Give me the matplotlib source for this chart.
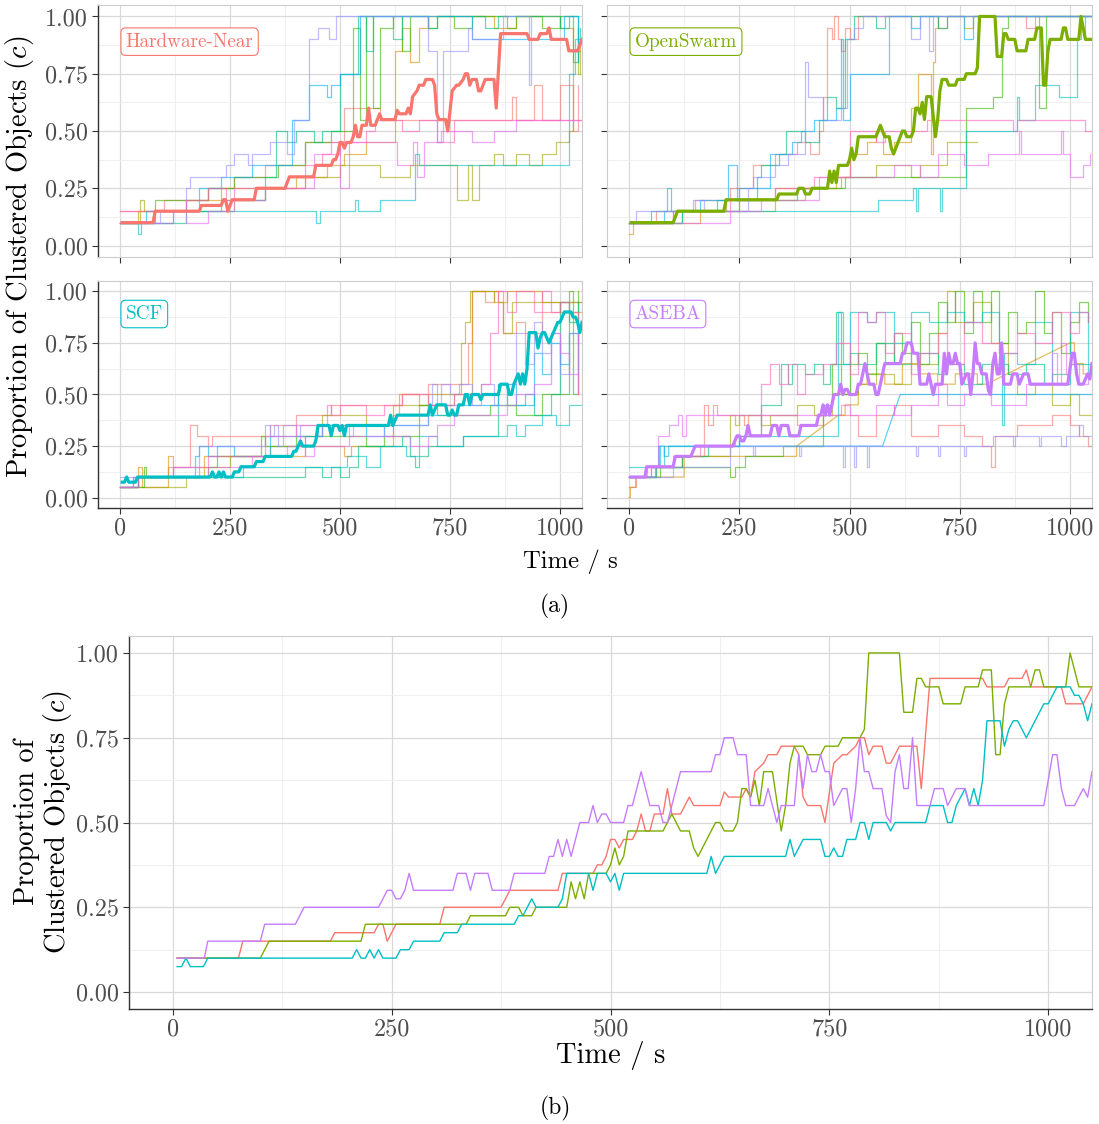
import matplotlib
matplotlib.use("Agg")
import matplotlib.pyplot as plt

plt.rcParams["font.family"] = "cmr10"
plt.rcParams["mathtext.fontset"] = "cm"
plt.rcParams["axes.unicode_minus"] = False

methods = ["Hardware-Near", "OpenSwarm", "SCF", "ASEBA"]
method_colors = ["#F8766D", "#7CAE00", "#00BFC4", "#C77CFF"]
run_colors = ["#F8766D", "#D89000", "#A3A500", "#39B600", "#00BF7D",
              "#00BFC4", "#00B0F6", "#9590FF", "#E76BF3", "#FF62BC"]

x_ticks = [0, 250, 500, 750, 1000]
y_ticks = [0.0, 0.25, 0.5, 0.75, 1.0]

# mean proportion over all runs, (time, value)
hn_mean = [(5, .10), (75, .10), (80, .15), (180, .15), (185, .175), (230, .175), (235, .20), (240, .20),
           (245, .15), (255, .20), (305, .20), (310, .25), (375, .25), (385, .30), (440, .30), (445, .35),
           (480, .35), (485, .375), (490, .375), (495, .40), (500, .45), (505, .45), (510, .425), (515, .45),
           (525, .45), (530, .475), (535, .525), (540, .475), (545, .475), (550, .525), (560, .525),
           (565, .60), (570, .525), (580, .525), (590, .575), (595, .55), (625, .55), (630, .59), (635, .575),
           (650, .575), (655, .60), (660, .575), (665, .65), (675, .675), (680, .70), (690, .70), (695, .725),
           (710, .725), (715, .70), (720, .575), (725, .55), (740, .55), (745, .50), (755, .675), (765, .70),
           (770, .70), (780, .725), (785, .75), (790, .75), (795, .70), (800, .725), (810, .725), (815, .675),
           (820, .675), (830, .725), (850, .725), (855, .60), (865, .925), (925, .925), (930, .90), (950, .90),
           (955, .925), (970, .925), (975, .95), (980, .90), (1015, .90), (1020, .85), (1040, .85), (1050, .90)]

os_mean = [(5, .10), (100, .10), (110, .15), (215, .15), (220, .20), (335, .20), (340, .225), (380, .225),
           (385, .25), (395, .25), (400, .225), (410, .225), (415, .25), (450, .25), (455, .325), (460, .275),
           (465, .325), (470, .275), (475, .35), (495, .35), (500, .375), (505, .425), (510, .375), (515, .40),
           (520, .475), (560, .475), (570, .525), (580, .475), (590, .475), (595, .425), (600, .40), (620, .50),
           (625, .50), (630, .475), (640, .475), (645, .50), (650, .60), (655, .60), (660, .575), (665, .625),
           (670, .55), (675, .65), (685, .65), (695, .475), (700, .55), (705, .675), (710, .725), (720, .725),
           (725, .70), (740, .70), (745, .725), (760, .725), (765, .75), (785, .75), (790, .775), (795, 1.0),
           (830, 1.0), (835, .825), (845, .825), (850, .925), (855, .925), (860, .90), (875, .90), (880, .85),
           (900, .85), (905, .90), (920, .90), (925, .95), (935, .95), (940, .70), (945, .70), (950, .85),
           (955, .90), (980, .90), (985, .95), (990, .95), (995, .90), (1020, .90), (1025, 1.0), (1035, .90),
           (1050, .90)]

scf_mean = [(5, .075), (10, .075), (15, .10), (20, .075), (35, .075), (40, .10), (205, .10), (210, .125),
            (215, .10), (220, .10), (225, .125), (230, .10), (235, .125), (240, .10), (255, .10), (260, .125),
            (270, .125), (275, .15), (305, .15), (310, .175), (325, .175), (330, .20), (390, .20), (395, .225),
            (400, .225), (410, .275), (415, .25), (440, .25), (445, .275), (450, .35), (475, .35), (480, .30),
            (485, .35), (495, .35), (500, .325), (505, .35), (510, .30), (515, .35), (610, .35), (615, .40),
            (620, .35), (630, .40), (700, .40), (705, .45), (710, .40), (720, .45), (740, .45), (745, .40),
            (750, .40), (755, .425), (760, .40), (765, .40), (770, .45), (780, .45), (785, .50), (790, .50),
            (795, .45), (800, .50), (815, .50), (820, .475), (825, .50), (860, .50), (865, .55), (880, .55),
            (885, .50), (890, .50), (895, .55), (905, .60), (910, .55), (915, .60), (920, .55), (925, .625),
            (930, .80), (945, .80), (950, .725), (955, .775), (960, .80), (965, .80), (975, .75), (985, .80),
            (990, .825), (995, .85), (1000, .85), (1005, .875), (1010, .90), (1025, .90), (1030, .875),
            (1035, .875), (1040, .85), (1045, .80), (1050, .85)]

aseba_mean = [(5, .10), (36, .10), (40, .15), (100, .15), (105, .20), (140, .20), (150, .25), (235, .25),
              (245, .30), (250, .30), (255, .275), (260, .275), (265, .30), (270, .35), (275, .30), (320, .30),
              (325, .35), (335, .35), (340, .30), (345, .35), (360, .35), (365, .30), (385, .30), (390, .35),
              (425, .35), (430, .40), (435, .40), (440, .45), (445, .40), (450, .45), (455, .40), (460, .45),
              (465, .50), (475, .50), (480, .55), (485, .50), (490, .525), (495, .525), (500, .50), (515, .50),
              (520, .55), (525, .55), (535, .65), (545, .55), (555, .55), (560, .50), (565, .50), (570, .55),
              (580, .65), (615, .65), (620, .70), (625, .70), (630, .75), (640, .75), (645, .70), (655, .70),
              (660, .55), (675, .55), (680, .60), (685, .55), (690, .50), (695, .55), (710, .55), (715, .70),
              (720, .60), (725, .70), (730, .65), (735, .65), (740, .70), (745, .65), (750, .65), (755, .55),
              (760, .575), (765, .60), (770, .60), (775, .50), (780, .60), (785, .75), (790, .65), (795, .65),
              (800, .60), (810, .60), (815, .52), (820, .50), (825, .65), (830, .70), (835, .60), (840, .60),
              (845, .75), (850, .55), (865, .55), (870, .60), (880, .60), (885, .55), (895, .60), (905, .60),
              (910, .55), (995, .55), (1005, .70), (1010, .70), (1015, .60), (1020, .55), (1030, .55),
              (1040, .60), (1045, .575), (1050, .65)]

# single runs, step changes (time, value); a third entry marks a straight ramp
hn_runs = [
    [(0, .15), (60, .15), (100, .20), (200, .25), (260, .30), (330, .35), (420, .45), (510, .60), (590, .55),
     (890, .65), (900, .55), (940, .70), (960, .55), (1000, .70), (1030, .50), (1040, .70)],
    [(0, .10), (40, .15), (150, .20), (230, .25), (400, .30), (470, .35), (510, .40), (560, .45), (625, .85),
     (640, .95), (660, .80), (680, .95), (700, 1.0), (800, 1.0), (850, .95), (900, 1.0), (1000, .95),
     (1030, .85), (1045, .90)],
    [(0, .10), (45, .20), (55, .15), (260, .20), (330, .25), (420, .30), (500, .35), (590, .30), (660, .35),
     (765, .20), (790, .35), (800, .20), (815, .35), (850, .40), (870, .35), (900, .40), (930, .35),
     (960, .40), (990, .45), (1020, .50), (1030, .85), (1040, .75), (1045, .85)],
    [(0, .10), (80, .20), (200, .25), (260, .30), (360, .35), (420, .45), (480, .50), (530, .95), (545, .55),
     (560, 1.0), (575, .60), (590, .95), (620, 1.0), (640, .85), (660, 1.0), (700, .95), (720, 1.0),
     (760, .95), (800, 1.0), (880, .95), (900, 1.0), (960, .95), (1000, 1.0), (1030, .80), (1040, .95)],
    [(0, .10), (150, .15), (230, .20), (330, .30), (355, .50), (380, .45), (400, .50), (440, .45), (460, .50),
     (500, .75), (540, 1.0), (560, .85), (575, 1.0), (620, .90), (640, 1.0), (700, .95), (720, 1.0),
     (830, .95), (860, 1.0), (1000, .95), (1020, 1.0), (1040, .85)],
    [(0, .10), (40, .05), (48, .10), (120, .15), (440, .15), (445, .10), (455, .15), (535, .20), (540, .15),
     (590, .20), (670, .40), (680, .35), (990, .35), (1020, .75), (1035, .90), (1045, .95)],
    [(0, .10), (60, .15), (180, .25), (230, .30), (300, .35), (390, .55), (430, .70), (470, .65), (480, .70),
     (500, .75), (545, 1.0), (730, 1.0), (800, .90), (1000, .90), (1010, 1.0), (1040, .80)],
    [(0, .10), (90, .15), (150, .25), (160, .30), (240, .35), (260, .40), (290, .35), (300, .40), (340, .45),
     (380, .40), (395, .55), (430, .90), (450, .95), (475, .90), (490, 1.0), (700, .85), (720, .45),
     (735, .85), (790, .95), (800, .90), (870, 1.0), (930, .70), (935, 1.0)],
    [(0, .10), (120, .15), (150, .10), (200, .15), (260, .20), (330, .25), (440, .40), (480, .45), (500, .25),
     (520, .45), (630, .35), (665, .45), (675, .30), (690, .45), (730, .50), (800, .45), (850, .50),
     (900, .55), (1050, .55)],
    [(0, .15), (150, .20), (200, .25), (240, .20), (260, .25), (420, .35), (460, .40), (500, .45), (560, .50),
     (580, .55), (640, .50), (680, .55), (720, .45), (760, .55), (1050, .55)],
]

os_runs = [
    [(0, .10), (60, .15), (150, .20), (230, .25), (280, .35), (330, .40), (380, .45), (410, .40), (430, .50),
     (440, .65), (450, .95), (460, .90), (465, 1.0), (475, .90), (480, .85), (490, .95), (500, .90),
     (520, 1.0), (700, .95), (720, 1.0), (900, .95), (920, 1.0), (1050, 1.0)],
    [(0, .05), (10, .10), (160, .15), (220, .20), (330, .25), (470, .30), (500, .40), (540, .45), (560, .50),
     (575, .40), (600, .45), (640, .60), (655, .75), (685, .40), (690, .80), (695, .95), (700, 1.0),
     (760, .95), (780, 1.0), (1050, 1.0)],
    [(0, .10), (100, .15), (330, .20), (400, .25), (480, .30), (560, .35), (640, .30), (660, .35), (720, .45),
     (790, .45)],
    [(0, .10), (120, .15), (250, .20), (380, .25), (490, .30), (765, .60), (825, .65), (845, .95), (860, 1.0),
     (930, .60), (945, 1.0), (1050, 1.0)],
    [(0, .10), (50, .15), (200, .20), (290, .30), (300, .35), (340, .40), (355, .50), (400, .45), (430, .55),
     (450, .65), (470, .60), (490, .90), (510, 1.0), (560, .95), (580, 1.0), (700, .95), (720, 1.0),
     (1050, 1.0)],
    [(0, .10), (120, .15), (565, .20), (645, .25), (650, .15), (655, .25), (705, .15), (710, .25), (765, .50),
     (880, .65), (885, .55), (920, .70), (975, .65), (1015, .90), (1025, 1.0), (1035, .90), (1050, .90)],
    [(0, .10), (80, .15), (85, .25), (95, .15), (160, .20), (225, .35), (245, .20), (250, .25), (320, .40),
     (370, .45), (390, .50), (420, .55), (470, .60), (480, .90), (485, .55), (500, .75), (590, 1.0),
     (640, .95), (660, 1.0), (760, .90), (780, 1.0), (1050, 1.0)],
    [(0, .10), (15, .15), (145, .20), (170, .15), (270, .25), (280, .30), (330, .35), (360, .40), (400, .80),
     (405, .65), (440, .55), (480, .60), (495, .90), (510, .95), (530, 1.0), (640, .90), (660, 1.0),
     (680, .85), (690, 1.0), (1050, 1.0)],
    [(0, .10), (200, .10), (230, .15), (300, .20), (430, .30), (600, .35), (660, .30), (700, .40), (760, .35),
     (815, .40), (880, .40), (885, .50), (890, .40), (980, .50), (985, .40), (1000, .30), (1030, .35),
     (1045, .40)],
    [(0, .10), (100, .15), (230, .20), (330, .25), (420, .30), (500, .50), (560, .45), (580, .50), (675, .55),
     (870, .50), (880, .55), (1035, .50), (1050, .50)],
]

scf_runs = [
    [(0, .05), (40, .10), (110, .15), (160, .35), (175, .30), (200, .25), (210, .30), (340, .35), (400, .40),
     (480, .45), (640, .50), (700, .55), (790, .75), (800, 1.0), (830, .95), (850, 1.0), (870, .80),
     (900, .85), (920, .80), (960, .90), (1000, .95), (1050, .95)],
    [(0, .05), (40, .15), (50, .05), (110, .20), (120, .10), (190, .20), (420, .25), (500, .25), (510, .20),
     (525, .25), (620, .40), (635, .50), (680, .45), (700, .50), (800, 1.0), (860, .95), (880, 1.0),
     (960, .95), (1000, .90), (1050, .95)],
    [(0, .05), (150, .10), (180, .15), (250, .20), (340, .25), (420, .30), (460, .40), (560, .35), (620, .45),
     (760, .50), (775, .75), (785, .85), (795, 1.0), (850, .95), (870, .80), (890, .95), (1050, .95)],
    [(0, .05), (55, .15), (60, .10), (200, .15), (220, .20), (320, .30), (330, .25), (400, .30), (560, .25),
     (600, .30), (680, .45), (720, .40), (840, .45), (900, .40), (960, .50), (1020, 1.0), (1030, .50),
     (1040, 1.0)],
    [(0, .05), (40, .10), (420, .15), (460, .10), (480, .15), (500, .10), (520, .15), (540, .25), (640, .30),
     (660, .20), (670, .15), (680, .20), (700, .25), (780, .30), (860, .55), (880, .45), (920, .50),
     (940, .40), (980, .50), (1000, .95), (1020, .85), (1040, .95)],
    [(0, .05), (40, .10), (280, .15), (515, .20), (560, .15), (590, .25), (650, .20), (680, .30), (720, .25),
     (780, .30), (880, .35), (900, .30), (920, .35), (960, .40), (990, .35), (1020, .45), (1050, .45)],
    [(0, .05), (30, .10), (170, .20), (180, .25), (200, .20), (220, .25), (260, .20), (340, .30), (460, .35),
     (560, .30), (600, .35), (700, .40), (740, .45), (860, .55), (900, .45), (940, .70), (960, .60),
     (980, .75), (1000, .65), (1020, .80), (1040, .60)],
    [(0, .10), (120, .15), (180, .25), (330, .35), (340, .30), (350, .35), (360, .25), (370, .35), (400, .30),
     (410, .35), (450, .30), (460, .35), (520, .30), (530, .35), (600, .30), (620, .35), (700, .45),
     (710, .55), (720, .45), (730, .55), (750, .50), (770, .55), (800, .45), (820, .55), (850, .45),
     (880, .55), (900, .80), (920, .65), (940, .85), (960, .70), (980, .80), (1000, .60), (1020, .80),
     (1040, .75)],
    [(0, .05), (30, .10), (200, .15), (300, .20), (380, .25), (410, .30), (420, .20), (440, .25), (520, .30),
     (660, .25), (700, .30), (720, .35), (760, .40), (880, .45), (900, .50), (940, .55), (980, .80),
     (1000, .70), (1020, .60), (1040, .50)],
    [(0, .05), (40, .10), (120, .15), (200, .20), (330, .30), (400, .35), (470, .45), (480, .40), (500, .45),
     (560, .40), (600, .45), (640, .50), (700, .45), (760, .50), (820, .55), (840, .80), (860, 1.0),
     (880, .90), (900, 1.0), (940, .90), (960, 1.0), (980, .90), (1000, .95), (1020, .90), (1040, .50)],
]

aseba_runs = [
    [(0, .05), (15, .10), (60, .15), (120, .20), (170, .45), (180, .35), (190, .45), (200, .40), (260, .35),
     (270, .40), (380, .35), (440, .40), (520, .30), (560, .40), (600, .45), (640, .30), (700, .35),
     (760, .30), (800, .25), (820, .15), (830, .30), (880, .35), (960, .40), (1000, .35), (1020, .30),
     (1040, .25), (1050, .25)],
    [(0, 0.0), (3, .05), (15, .10), (125, .20), (380, .25), (475, .40, "ramp"), (490, .45), (520, .55),
     (540, .60), (580, .55), (620, .65), (660, .60), (700, .55), (740, .60), (790, .55), (810, .55),
     (1000, .75, "ramp"), (1010, .65), (1030, .60), (1050, .65)],
    [(0, .10), (50, .15), (120, .20), (230, .40), (240, .35), (250, .40), (300, .35), (320, .40), (380, .45),
     (420, .40), (460, .50), (520, .55), (560, .60), (600, .55), (640, .65), (700, .80), (720, 1.0),
     (740, .85), (780, .95), (820, .75), (860, .60), (880, .50), (920, .55), (960, .45), (1000, .50),
     (1020, .40), (1050, .40)],
    [(0, .10), (70, .15), (228, .10), (240, .15), (262, .20), (350, .25), (440, .45), (460, .65), (480, .50),
     (500, .65), (520, .70), (540, .60), (560, .75), (580, .65), (600, .80), (620, .70), (640, .85),
     (660, .65), (680, .80), (700, .95), (720, .85), (740, 1.0), (760, .80), (780, 1.0), (800, .85),
     (820, 1.0), (840, .75), (860, .90), (880, .80), (900, .85), (920, 1.0), (940, .80), (960, .90),
     (980, .70), (1000, .85), (1020, .95), (1040, .85)],
    [(0, .10), (60, .15), (120, .20), (180, .25), (250, .30), (300, .45), (345, .65), (360, .55), (370, .65),
     (400, .60), (420, .65), (440, .55), (455, .65), (470, .90), (480, .65), (500, .70), (520, .65),
     (560, .75), (600, .65), (640, .70), (700, .60), (720, .65), (760, .55), (800, .65), (860, .60),
     (900, .65), (940, .55), (960, .60), (1000, .65), (1050, .65)],
    [(0, .15), (67, .25), (70, .15), (80, .25), (250, .30), (475, .90), (485, .65), (500, .90), (540, .85),
     (560, .90), (600, .75), (640, .90), (680, .85), (720, .90), (760, .85), (800, .90), (840, .70),
     (845, .35), (850, .70), (880, .65), (920, .85), (960, .55), (1000, .90), (1040, .60), (1050, .60)],
    [(0, .10), (60, .15), (67, .25), (80, .20), (90, .25), (575, .25), (615, .50, "ramp"), (1050, .50)],
    [(0, .10), (100, .15), (230, .25), (280, .20), (285, .25), (385, .20), (390, .25), (485, .15), (490, .25),
     (510, .15), (515, .25), (540, .15), (545, .25), (650, .20), (655, .25), (700, .20), (705, .25),
     (760, .20), (765, .25), (825, .30), (870, .25), (875, .30), (930, .25), (935, .30), (980, .25),
     (990, .30), (1020, .35), (1030, .30), (1050, .30)],
    [(0, .10), (50, .15), (65, .30), (90, .35), (110, .40), (120, .30), (130, .40), (480, .45), (500, .40),
     (560, .45), (600, .40), (640, .45), (700, .55), (720, .45), (760, .50), (820, .45), (900, .55),
     (960, .70), (970, .55), (980, .75), (990, .60), (1000, .65), (1020, .55), (1040, .60)],
    [(0, .10), (40, .15), (100, .20), (160, .25), (240, .30), (300, .55), (320, .65), (340, .55), (360, .65),
     (380, .50), (400, .60), (440, .65), (470, .75), (500, .60), (520, .90), (540, .85), (560, .90),
     (580, .70), (600, .80), (640, .60), (660, .70), (700, .80), (720, .65), (760, .85), (800, .75),
     (840, .70), (880, .80), (920, .75), (960, .90), (1000, .80), (1020, .90), (1040, .85)],
]

all_means = [hn_mean, os_mean, scf_mean, aseba_mean]
all_runs = [hn_runs, os_runs, scf_runs, aseba_runs]


def step_xy(points):
    xs, ys = [], []
    for p in points:
        if xs and len(p) == 2:
            xs.append(p[0])
            ys.append(ys[-1])
        xs.append(p[0])
        ys.append(p[1])
    return xs, ys


def style_axes(ax, dark_left, dark_bottom, show_y, show_x):
    ax.set_xlim(-50, 1050)
    ax.set_ylim(-0.05, 1.05)
    ax.set_xticks(x_ticks)
    ax.set_yticks(y_ticks)
    ax.set_xticks([125, 375, 625, 875], minor=True)
    ax.set_yticks([0.125, 0.375, 0.625, 0.875], minor=True)
    ax.set_xticklabels([str(t) for t in x_ticks] if show_x else [])
    ax.set_yticklabels(["%.2f" % v for v in y_ticks] if show_y else [])
    ax.grid(which="major", color="#D9D9D9", lw=0.9)
    ax.grid(which="minor", color="#EDEDED", lw=0.6)
    ax.set_axisbelow(True)
    ax.tick_params(which="minor", length=0)
    ax.tick_params(which="major", length=4, width=0.8, color="#333333",
                   labelcolor="#4D4D4D", labelsize=17.4, pad=3)
    for s in ax.spines.values():
        s.set_color("#CCCCCC")
        s.set_linewidth(0.8)
    if dark_left:
        ax.spines["left"].set_color("#333333")
        ax.spines["left"].set_linewidth(1.0)
    if dark_bottom:
        ax.spines["bottom"].set_color("#333333")
        ax.spines["bottom"].set_linewidth(1.0)


W, H = 1099, 1124
fig = plt.figure(figsize=(W / 100, H / 100), dpi=100)


def add_axes(l, t, r, b):
    return fig.add_axes([l / W, 1 - b / H, (r - l) / W, (b - t) / H])


boxes = [(98, 5, 582, 257), (607, 5, 1092, 257), (98, 281, 582, 508), (607, 281, 1092, 508)]

# (a) one facet per method: single runs plus the mean
for i, (name, col) in enumerate(zip(methods, method_colors)):
    ax = add_axes(*boxes[i])
    for j, run in enumerate(all_runs[i]):
        xs, ys = step_xy(run)
        ax.plot(xs, ys, color=run_colors[j], lw=0.9, alpha=0.6)
    mx = [p[0] for p in all_means[i]]
    my = [p[1] for p in all_means[i]]
    ax.plot(mx, my, color=col, lw=2.3, solid_joinstyle="round")
    ax.text(13, 0.89, name, color=col, fontsize=13.8, ha="left", va="center",
            bbox=dict(boxstyle="round,pad=0.25,rounding_size=0.25", fc="white", ec=col, lw=0.8))
    style_axes(ax, i % 2 == 0, i >= 2, i % 2 == 0, i >= 2)

fig.text(20 / W, 1 - 257 / H, "Proportion of Clustered Objects $(c)$", rotation=90,
         ha="center", va="center", fontsize=20.5)
fig.text(570 / W, 1 - 562 / H, "Time / s", ha="center", va="center", fontsize=17.8)
fig.text(555 / W, 1 - 606 / H, "(a)", ha="center", va="center", fontsize=17)

# (b) means of all methods together
ax = add_axes(129, 636, 1092, 1009)
for name, col, mean in zip(methods, method_colors, all_means):
    ax.plot([p[0] for p in mean], [p[1] for p in mean], color=col, lw=1.0)
style_axes(ax, True, True, True, True)

fig.text(27 / W, 1 - 822 / H, "Proportion of", rotation=90, ha="center", va="center", fontsize=20.4)
fig.text(57 / W, 1 - 822 / H, "Clustered Objects $(c)$", rotation=90, ha="center", va="center",
         fontsize=20.4)
fig.text(611 / W, 1 - 1055 / H, "Time / s", ha="center", va="center", fontsize=20.5)
fig.text(555 / W, 1 - 1108 / H, "(b)", ha="center", va="center", fontsize=17)

fig.savefig("out.png", dpi=100)
